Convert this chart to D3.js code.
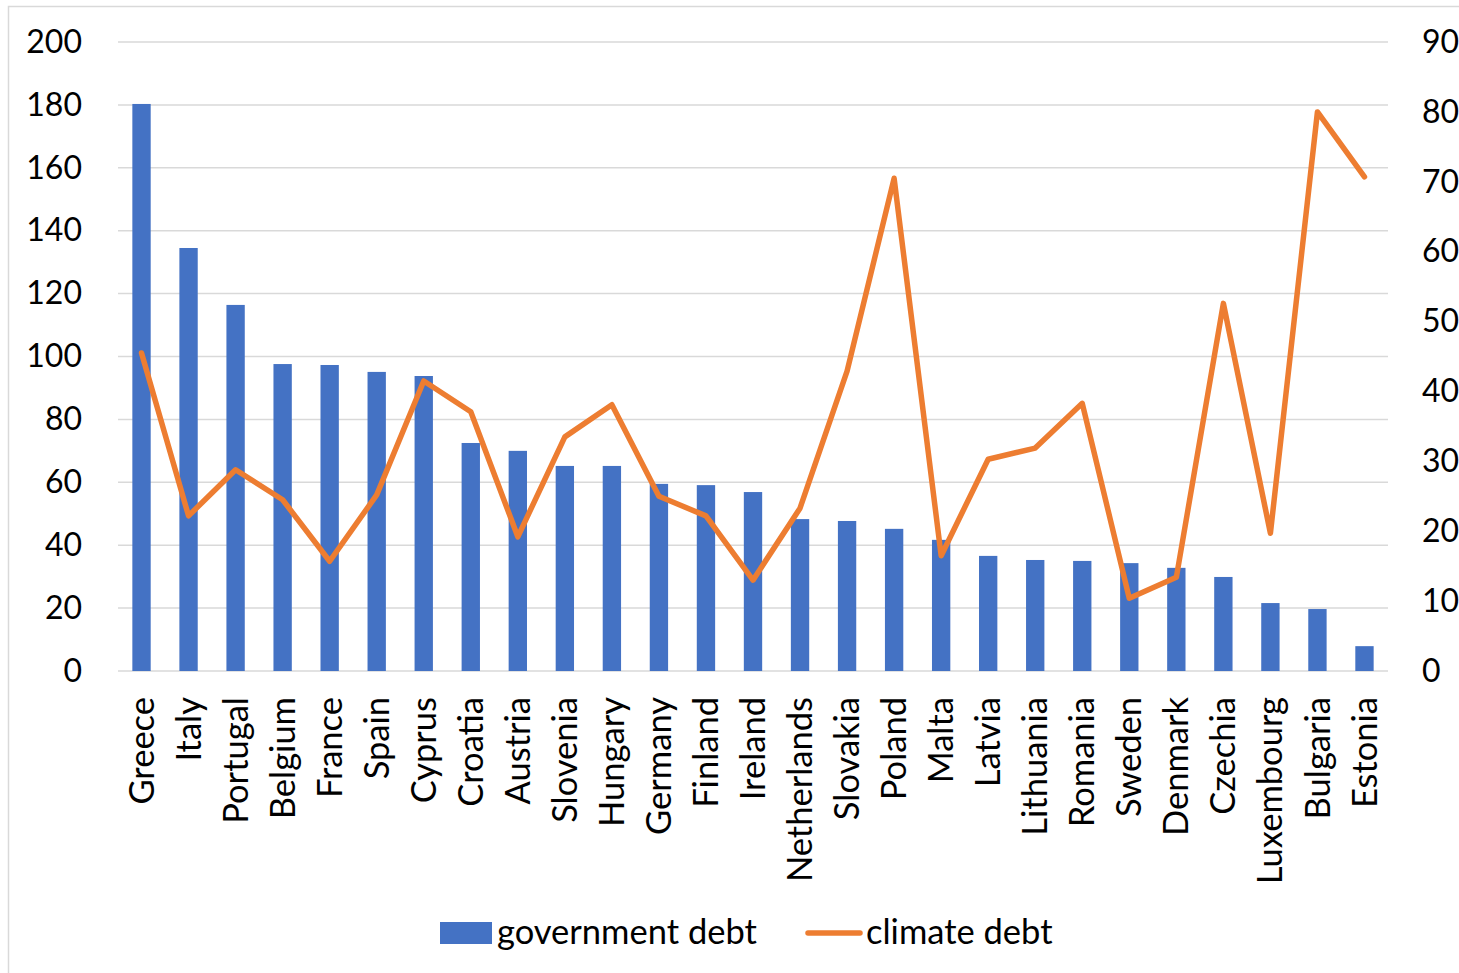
<!DOCTYPE html>
<html>
<head>
<meta charset="utf-8">
<script src="https://cdn.jsdelivr.net/npm/d3@7"></script>
<style>
  html, body { margin: 0; padding: 0; background: #fff; }
  svg text { font-family: Lato, "Open Sans", sans-serif; fill: #000; }
</style>
</head>
<body>
<svg id="chart" width="1459" height="973"></svg>
<script>
// Countries ordered by government debt (% of GDP)
const countries = ["Greece","Italy","Portugal","Belgium","France","Spain","Cyprus","Croatia","Austria","Slovenia","Hungary","Germany","Finland","Ireland","Netherlands","Slovakia","Poland","Malta","Latvia","Lithuania","Romania","Sweden","Denmark","Czechia","Luxembourg","Bulgaria","Estonia"];
const governmentDebt = [180.3,134.5,116.4,97.6,97.3,95.1,93.8,72.5,70.0,65.2,65.2,59.5,59.1,56.9,48.3,47.7,45.2,41.7,36.6,35.3,35.0,34.3,32.8,29.9,21.6,19.7,7.9];
const climateDebt = [45.5,22.2,28.8,24.5,15.7,25.2,41.5,37.1,19.2,33.5,38.1,25.0,22.2,13.0,23.3,42.9,70.5,16.5,30.3,31.9,38.3,10.4,13.4,52.6,19.7,80.0,70.7];
const leftTicks = [0,20,40,60,80,100,120,140,160,180,200];
const rightTicks = [0,10,20,30,40,50,60,70,80,90];
const seriesNames = ["government debt","climate debt"];

const svg = d3.select("#chart");
const plot = { left: 118, right: 1388, top: 42, bottom: 671 };
const tickFont = 32, labelFont = 34.5;
const barColor = "#4472C4", lineColor = "#ED7D31", gridColor = "#d9d9d9";

// outer frame of the chart area
svg.append("rect")
  .attr("x", 8.5).attr("y", 6.5)
  .attr("width", 1470).attr("height", 980)
  .attr("fill", "none").attr("stroke", gridColor).attr("stroke-width", 1.5);

const x = d3.scaleBand().domain(countries).range([plot.left, plot.right]).paddingInner(0.61).paddingOuter(0.305);
const yL = d3.scaleLinear().domain([0, 200]).range([plot.bottom, plot.top]);
const yR = d3.scaleLinear().domain([0, 90]).range([plot.bottom, plot.top]);

// horizontal gridlines
svg.append("g").selectAll("line").data(leftTicks).join("line")
  .attr("x1", plot.left).attr("x2", plot.right)
  .attr("y1", d => yL(d)).attr("y2", d => yL(d))
  .attr("stroke", gridColor).attr("stroke-width", 1.5);

// left axis labels
const axL = svg.append("g").attr("transform", `translate(${plot.left},0)`)
  .call(d3.axisLeft(yL).tickValues(leftTicks).tickSize(0).tickPadding(36));
axL.select(".domain").remove();
axL.selectAll("text").style("font-size", tickFont + "px").style("font-family", "Lato, sans-serif");

// right axis labels
const axR = svg.append("g").attr("transform", `translate(${plot.right},0)`)
  .call(d3.axisRight(yR).tickValues(rightTicks).tickSize(0).tickPadding(34));
axR.select(".domain").remove();
axR.selectAll("text").style("font-size", tickFont + "px").style("font-family", "Lato, sans-serif");

// government debt bars
svg.append("g").selectAll("rect").data(countries).join("rect")
  .attr("x", d => x(d))
  .attr("width", x.bandwidth())
  .attr("y", (d, i) => yL(governmentDebt[i]))
  .attr("height", (d, i) => yL(0) - yL(governmentDebt[i]))
  .attr("fill", barColor);

// climate debt line
const line = d3.line()
  .x((d, i) => x(countries[i]) + x.bandwidth() / 2)
  .y(d => yR(d));
svg.append("path").datum(climateDebt)
  .attr("d", line)
  .attr("fill", "none").attr("stroke", lineColor)
  .attr("stroke-width", 5.5).attr("stroke-linejoin", "round").attr("stroke-linecap", "round");

// category labels, rotated
svg.append("g").selectAll("text").data(countries).join("text")
  .attr("transform", d => `translate(${x(d) + x.bandwidth() / 2},${plot.bottom + 26}) rotate(-90)`)
  .attr("text-anchor", "end")
  .attr("dy", "0.35em")
  .style("font-size", labelFont + "px")
  .text(d => d);

// legend
const legend = svg.append("g");
legend.append("rect").attr("x", 440).attr("y", 922).attr("width", 52).attr("height", 22).attr("fill", barColor);
legend.append("text").attr("x", 497).attr("y", 944).style("font-size", labelFont + "px").text(seriesNames[0]);
legend.append("line").attr("x1", 808).attr("x2", 860).attr("y1", 933).attr("y2", 933)
  .attr("stroke", lineColor).attr("stroke-width", 5.5).attr("stroke-linecap", "round");
legend.append("text").attr("x", 866).attr("y", 944).style("font-size", labelFont + "px").text(seriesNames[1]);
</script>
</body>
</html>
